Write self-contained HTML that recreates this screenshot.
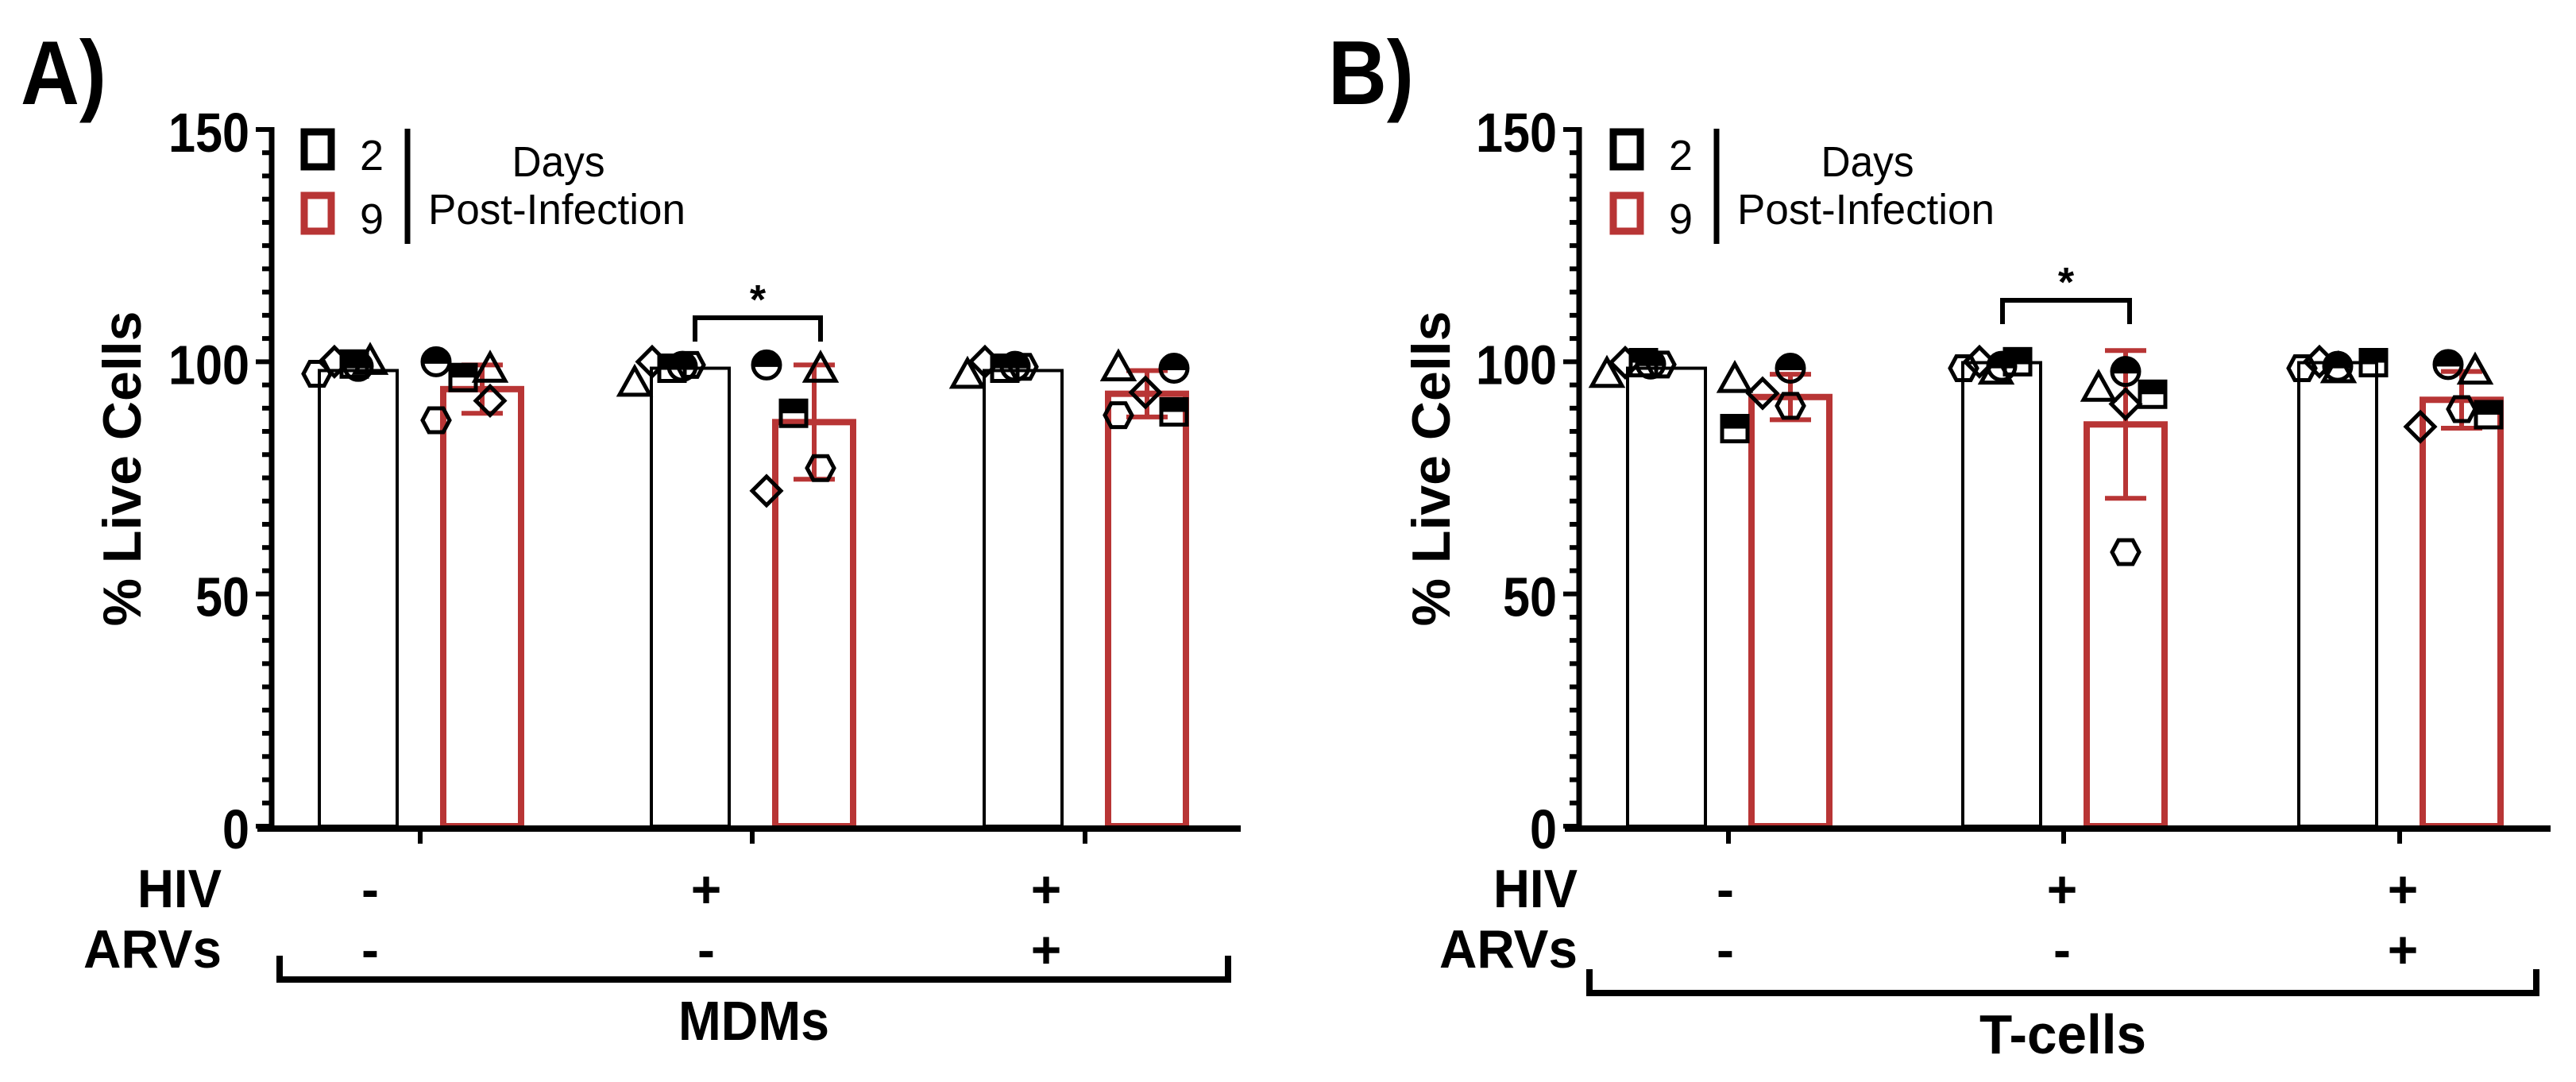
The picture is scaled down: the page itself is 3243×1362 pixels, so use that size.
<!DOCTYPE html>
<html><head><meta charset="utf-8">
<style>
html,body{margin:0;padding:0;background:#fff;}
svg{display:block;font-family:"Liberation Sans",Arial,sans-serif;}
</style></head>
<body>
<svg id="chart" width="3243" height="1362" viewBox="0 0 3243 1362" xmlns="http://www.w3.org/2000/svg"></svg>
<script>
// ---- data ----
const groups = ["HIV- ARVs-", "HIV+ ARVs-", "HIV+ ARVs+"];
const hivLabels = ["-", "+", "+"];
const arvLabels = ["-", "-", "+"];
const yTicks = [0, 50, 100, 150];
const markerTypes = ["triangle", "diamond", "halfsquare", "hexagon", "halfcircle"];

// Panel A (MDMs): bar means, SD, points [triangle, diamond, halfsquare, hexagon, halfcircle]
const mdmDay2Mean = [98.1, 98.6, 98.1];
const mdmDay2Sd = [0, 0, 0];
const mdmDay9Mean = [94.1, 87.0, 93.1];
const mdmDay9Sd = [5.2, 12.3, 5.0];
const mdmDay2Pts = [[100, 100, 99.5, 97.4, 99], [95.3, 100, 98.6, 99.3, 99], [97, 100, 98.6, 98.9, 99]];
const mdmDay9Pts = [[98.3, 91.6, 96.6, 87.4, 100], [98.3, 72.2, 88.9, 77.1, 99.3], [98.6, 93.4, 89.2, 88.5, 98.6]];

// Panel B (T-cells)
const tDay2Mean = [98.6, 99.8, 99.8];
const tDay2Sd = [0, 0, 0];
const tDay9Mean = [92.4, 86.5, 91.8];
const tDay9Sd = [4.9, 15.9, 6.1];
const tDay2Pts = [[97.2, 99.8, 99.8, 99.4, 99.5], [97.9, 100, 100, 98.6, 99], [98.2, 100, 99.8, 98.6, 99]];
const tDay9Pts = [[96.1, 93.2, 85.6, 90.5, 98.6], [94.2, 90.9, 93, 59, 97.9], [97.9, 86, 88.6, 89.8, 99.4]];

// marker horizontal jitter offsets (px) per marker type, per bar
const jitterA2 = [[15, -30, -5, -52, 0], [-70, -48, -23, 0, -10], [-70, -48, -23, 0, -10]];
const jitterA9 = [[10, 10, -24, -58, -58], [8, -60, -26, 8, -60], [-36, -2, 34, -36, 34]];
const jitterB2 = [[-75, -52, -29, -7, -20], [-7, -28, 20, -48, 0], [1, -23, 45, -45, 0]];
const jitterB9 = [[-70, -35, -70, 0, 0], [-34, 0, 34, 0, 0], [17, -52, 34, 0, -17]];

const RED = "#b83535";
const svg = document.getElementById('chart');
const NS = "http://www.w3.org/2000/svg";
function mk(tag, attrs, parent) {
  const e = document.createElementNS(NS, tag);
  for (const k in attrs) e.setAttribute(k, attrs[k]);
  (parent || svg).appendChild(e);
  return e;
}
function txt(str, attrs, parent) { const t = mk('text', attrs, parent); t.textContent = str; return t; }

function drawPanel(cfg) {
  const g = mk('g', {});
  
  
  const y0 = 1040, y150 = 163;
  const yScale = v => y0 - (v / 150) * (y0 - y150);
  const ax = cfg.axisX;
  const xCenter = (gi, s) => cfg.groupX[gi] + (s === 0 ? -cfg.half : cfg.half);

  const pl = txt(cfg.letter, {x: cfg.letterX, y: 131, 'font-size': 114, 'font-weight': 'bold', textLength: 108, lengthAdjust: 'spacingAndGlyphs'}, g);
  
  

  const yAxis = mk('g', {}, g);
  
  
  mk('line', {x1: ax, y1: y150 - 3, x2: ax, y2: y0 + 4, stroke: '#000', 'stroke-width': 7}, yAxis);
  for (let v = 0; v <= 150; v += 5) {
    const major = v % 50 === 0;
    mk('line', {x1: ax - (major ? 20 : 12), y1: yScale(v), x2: ax, y2: yScale(v), stroke: '#000', 'stroke-width': 6}, yAxis);
  }
  yTicks.forEach(v => {
    const t = txt(String(v), {x: ax - 28, y: yScale(v) + 28, 'font-size': 70, 'font-weight': 'bold', 'text-anchor': 'end', textLength: String(v).length * 34, lengthAdjust: 'spacingAndGlyphs'}, yAxis);
    
    
  });
  const yt = txt('% Live Cells', {x: 0, y: 0, 'font-size': 68, 'font-weight': 'bold', 'text-anchor': 'middle', transform: `translate(${cfg.yTitleX},590) rotate(-90)`}, yAxis);
  
  

  const series = [
    {mean: cfg.d2m, sd: cfg.d2s, pts: cfg.d2p, jit: cfg.j2, color: '#000', sw: 4},
    {mean: cfg.d9m, sd: cfg.d9s, pts: cfg.d9p, jit: cfg.j9, color: RED, sw: 8}
  ];
  series.forEach((s, si) => {
    groups.forEach((gname, gi) => {
      const cx = xCenter(gi, si);
      const top = yScale(s.mean[gi]);
      const bar = mk('rect', {x: cx - 49, y: top, width: 98, height: y0 - top, fill: 'none', stroke: s.color, 'stroke-width': s.sw}, g);
      
      
      if (s.sd[gi] > 0) {
        const eb = mk('g', {stroke: s.color, 'stroke-width': 6}, g);
        
        
        const hi = yScale(s.mean[gi] + s.sd[gi]), lo = yScale(s.mean[gi] - s.sd[gi]);
        mk('line', {x1: cx, y1: hi, x2: cx, y2: lo}, eb);
        mk('line', {x1: cx - 26, y1: hi, x2: cx + 26, y2: hi}, eb);
        mk('line', {x1: cx - 26, y1: lo, x2: cx + 26, y2: lo}, eb);
      }
    });
  });
  series.forEach((s, si) => {
    groups.forEach((gname, gi) => {
      const cx = xCenter(gi, si);
      s.pts[gi].forEach((v, mi) => {
        drawMarker(markerTypes[mi], cx + s.jit[gi][mi], yScale(v), g);
      });
    });
  });

  const xAxis = mk('g', {}, g);
  
  
  mk('line', {x1: ax - 18, y1: y0 + 3, x2: cfg.axisEnd, y2: y0 + 3, stroke: '#000', 'stroke-width': 8}, xAxis);
  groups.forEach((gname, gi) => {
    mk('line', {x1: cfg.groupX[gi], y1: y0 + 3, x2: cfg.groupX[gi], y2: y0 + 22, stroke: '#000', 'stroke-width': 6}, xAxis);
    const h = txt(hivLabels[gi], {x: cfg.signX[gi], y: 1142, 'font-size': 66, 'font-weight': 'bold', 'text-anchor': 'middle'}, xAxis);
    
    
    const a = txt(arvLabels[gi], {x: cfg.signX[gi], y: 1218, 'font-size': 66, 'font-weight': 'bold', 'text-anchor': 'middle'}, xAxis);
    
    
  });
  const hv = txt('HIV', {x: cfg.rowLabelRight, y: 1142, 'font-size': 68, 'font-weight': 'bold', 'text-anchor': 'end', textLength: 106, lengthAdjust: 'spacingAndGlyphs'}, xAxis);
  
  
  const ar = txt('ARVs', {x: cfg.rowLabelRight, y: 1218, 'font-size': 68, 'font-weight': 'bold', 'text-anchor': 'end', textLength: 174, lengthAdjust: 'spacingAndGlyphs'}, xAxis);
  
  
  const br = mk('path', {d: `M${cfg.brL},${cfg.brY - 30} V${cfg.brY} H${cfg.brR} V${cfg.brY - 30}`, fill: 'none', stroke: '#000', 'stroke-width': 8}, xAxis);
  
  
  const ct = txt(cfg.cellType, {x: (cfg.brL + cfg.brR) / 2, y: cfg.brY + 76, 'font-size': 70, 'font-weight': 'bold', 'text-anchor': 'middle', textLength: cfg.cellW, lengthAdjust: 'spacingAndGlyphs'}, xAxis);
  
  

  const sg = mk('g', {}, g);
  
  
  mk('path', {d: `M${cfg.sigL},${cfg.sigY + 30} V${cfg.sigY} H${cfg.sigR} V${cfg.sigY + 30}`, fill: 'none', stroke: '#000', 'stroke-width': 6}, sg);
  txt('*', {x: (cfg.sigL + cfg.sigR) / 2, y: cfg.sigY - 5, 'font-size': 52, 'font-weight': 'bold', 'text-anchor': 'middle'}, sg);

  const lg = mk('g', {}, g);
  
  
  const lx = cfg.legX;
  mk('rect', {x: lx + 4, y: 166, width: 34, height: 44, fill: 'none', stroke: '#000', 'stroke-width': 9}, lg);
  mk('rect', {x: lx + 4, y: 246, width: 34, height: 45, fill: 'none', stroke: RED, 'stroke-width': 9}, lg);
  txt('2', {x: lx + 74, y: 214, 'font-size': 54}, lg);
  txt('9', {x: lx + 74, y: 294, 'font-size': 54}, lg);
  mk('line', {x1: lx + 134, y1: 162, x2: lx + 134, y2: 307, stroke: '#000', 'stroke-width': 7}, lg);
  txt('Days', {x: lx + 324, y: 222, 'font-size': 54, 'text-anchor': 'middle', textLength: 117, lengthAdjust: 'spacingAndGlyphs'}, lg);
  txt('Post-Infection', {x: lx + 160, y: 282, 'font-size': 54, textLength: 324, lengthAdjust: 'spacingAndGlyphs'}, lg);
}

function drawMarker(type, x, y, parent) {
  const r = 18, sw = 5;
  const g = mk('g', {fill: 'none', stroke: '#000', 'stroke-width': sw}, parent);
  
  
  if (type === 'triangle') {
    mk('polygon', {points: `${x},${y - 20} ${x + 19},${y + 14} ${x - 19},${y + 14}`}, g);
  } else if (type === 'diamond') {
    mk('polygon', {points: `${x},${y - 18} ${x + 18},${y} ${x},${y + 18} ${x - 18},${y}`}, g);
  } else if (type === 'halfsquare') {
    mk('rect', {x: x - 16, y: y - 16, width: 32, height: 16, fill: '#000', stroke: 'none'}, g);
    mk('rect', {x: x - 16, y: y - 16, width: 32, height: 32}, g);
  } else if (type === 'hexagon') {
    mk('polygon', {points: `${x - 17},${y} ${x - 9},${y - 15} ${x + 9},${y - 15} ${x + 17},${y} ${x + 9},${y + 15} ${x - 9},${y + 15}`}, g);
  } else {
    mk('path', {d: `M${x - r},${y} A${r},${r} 0 0 1 ${x + r},${y} Z`, fill: '#000', stroke: 'none'}, g);
    mk('circle', {cx: x, cy: y, r: r - 1}, g);
    mk('line', {x1: x - r, y1: y, x2: x + r, y2: y}, g);
  }
}

drawPanel({
  name: 'panel-a-mdms', letter: 'A)', letterX: 26, axisX: 342, axisEnd: 1562, yTitleX: 177,
  groupX: [529, 947, 1366], half: 78, signX: [466, 889, 1317],
  rowLabelRight: 279, brL: 352, brR: 1546, brY: 1233, cellType: 'MDMs', cellW: 190,
  sigL: 875, sigR: 1033, sigY: 400, legX: 379,
  d2m: mdmDay2Mean, d2s: mdmDay2Sd, d9m: mdmDay9Mean, d9s: mdmDay9Sd,
  d2p: mdmDay2Pts, d9p: mdmDay9Pts, j2: jitterA2, j9: jitterA9
});
drawPanel({
  name: 'panel-b-tcells', letter: 'B)', letterX: 1672, axisX: 1988, axisEnd: 3211, yTitleX: 1825,
  groupX: [2176, 2598, 3021], half: 78, signX: [2172, 2596, 3025],
  rowLabelRight: 1986, brL: 2001, brR: 3193, brY: 1250, cellType: 'T-cells', cellW: 210,
  sigL: 2521, sigR: 2681, sigY: 378, legX: 2027,
  d2m: tDay2Mean, d2s: tDay2Sd, d9m: tDay9Mean, d9s: tDay9Sd,
  d2p: tDay2Pts, d9p: tDay9Pts, j2: jitterB2, j9: jitterB9
});
</script>
</body></html>
